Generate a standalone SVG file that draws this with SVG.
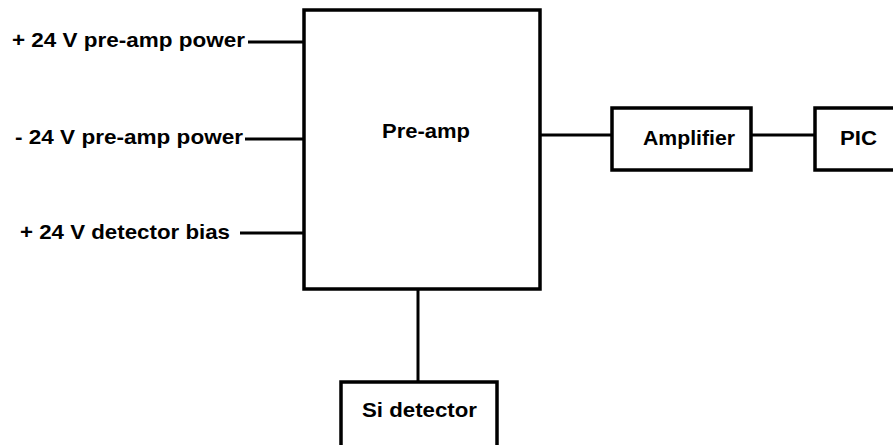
<svg xmlns="http://www.w3.org/2000/svg" width="893" height="445" viewBox="0 0 893 445">
<style>
.box{fill:#fff;stroke:#000;stroke-width:3.5}
.ln{stroke:#000;stroke-width:3;fill:none}
.t{font-family:"Liberation Sans",Arial,sans-serif;font-weight:bold;font-size:21px;fill:#000}
</style>
<rect width="893" height="445" fill="#fff"/>
<g id="connectors">
<line class="ln" x1="248" y1="42" x2="304" y2="42"/>
<line class="ln" x1="245" y1="139" x2="304" y2="139"/>
<line class="ln" x1="240" y1="233" x2="304" y2="233"/>
<line class="ln" x1="540" y1="135" x2="612" y2="135"/>
<line class="ln" x1="751" y1="135" x2="815" y2="135"/>
<line class="ln" x1="418" y1="289" x2="418" y2="382"/>
</g>
<g id="label-pos-power"><text class="t" x="12" y="47" textLength="233" lengthAdjust="spacingAndGlyphs">+ 24 V pre-amp power</text></g>
<g id="label-neg-power"><text class="t" x="15" y="144" textLength="228" lengthAdjust="spacingAndGlyphs">- 24 V pre-amp power</text></g>
<g id="label-bias"><text class="t" x="20" y="239" textLength="210" lengthAdjust="spacingAndGlyphs">+ 24 V detector bias</text></g>
<g id="preamp">
<rect class="box" x="304" y="10" width="236" height="279"/>
<text class="t" x="382" y="138" textLength="88" lengthAdjust="spacingAndGlyphs">Pre-amp</text>
</g>
<g id="amplifier">
<rect class="box" x="612" y="108" width="139" height="62"/>
<text class="t" x="643" y="145" textLength="92" lengthAdjust="spacingAndGlyphs">Amplifier</text>
</g>
<g id="pic">
<rect class="box" x="815" y="108" width="90" height="62"/>
<text class="t" x="840" y="145" textLength="37" lengthAdjust="spacingAndGlyphs">PIC</text>
</g>
<g id="si-detector">
<rect class="box" x="341" y="382" width="156" height="80"/>
<text class="t" x="362" y="417" textLength="115" lengthAdjust="spacingAndGlyphs">Si detector</text>
</g>
</svg>
